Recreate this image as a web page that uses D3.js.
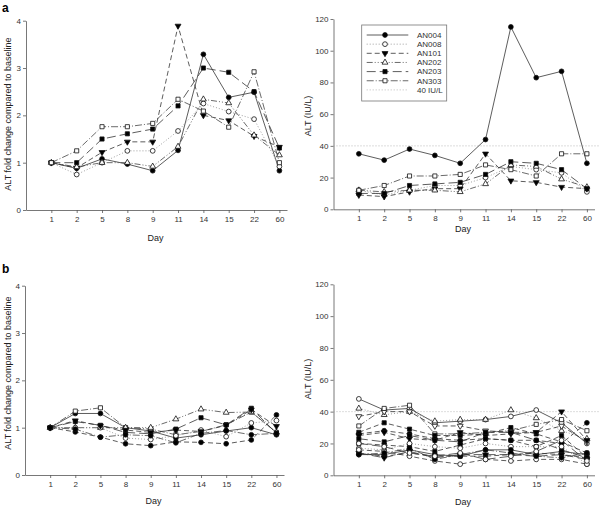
<!DOCTYPE html>
<html><head><meta charset="utf-8">
<script src="https://cdn.jsdelivr.net/npm/d3@7"></script>
<style>
body{margin:0;background:#fff;}
svg{display:block;font-family:"Liberation Sans",Arial,sans-serif;}
</style></head>
<body><svg id="c" width="600" height="507"></svg>
<script>
// ---------- DATA ----------
const days = ["1","2","5","8","9","11","14","15","22","60"];
const foldTicks = [0,1,2,3,4];
const altTicks = [0,20,40,60,80,100,120];
const limitValue = [40];

// Panel a: fold change vs baseline
const an004Fold = [1,0.88,1.08,0.97,0.83,1.26,3.29,2.38,2.49,0.83];
const an008Fold = [1,0.75,1.0,1.25,1.25,1.67,2.25,2.08,1.92,0.92];
const an101Fold = [1,0.89,1.22,1.44,1.44,3.89,2.0,1.89,1.56,1.33];
const an202Fold = [1,0.91,1.0,1.0,0.92,1.34,2.34,2.26,1.58,1.16];
const an203Fold = [1,1.0,1.5,1.61,1.71,2.2,3.0,2.91,2.5,1.31];
const an303Fold = [1,1.25,1.76,1.76,1.83,2.34,2.09,1.75,2.92,1.0];
// Panel a: ALT (IU/L)
const an004Alt = [35,31,38,34,29,44,115,83,87,29];
const an008Alt = [12,9,12,15,15,20,27,25,23,11];
const an101Alt = [9,8,11,13,13,35,18,17,14,13];
const an202Alt = [12,11,12,12,11,16,28,27,19,14];
const an203Alt = [10,10,15,16,17,22,30,29,25,13];
const an303Alt = [12,15,21,21,22,28,25,21,35,35];
const legendNames = ["AN004","AN008","AN101","AN202","AN203","AN303","40 IU/L"];

// Panel b: fold change
const bFold1 = [1,1.30,1.30,1.0,0.93,0.78,0.85,0.93,1.0,0.85];
const bFold2 = [1,1.35,1.42,1.0,0.97,0.85,0.92,1.06,1.33,0.9];
const bFold3 = [1,1.0,1.0,1.0,1.0,1.18,1.39,1.32,1.33,0.9];
const bFold4 = [1,1.13,1.05,0.9,0.87,0.97,1.21,1.06,1.41,0.88];
const bFold5 = [1,0.91,0.8,0.66,0.62,0.7,0.69,0.66,0.74,1.27];
const bFold6 = [1,1.0,1.0,0.78,0.75,0.83,0.95,0.81,1.1,1.15];
const bFold7 = [1,1.15,1.04,0.95,0.9,0.95,0.92,1.05,1.38,1.03];
const bFold8 = [1,0.97,0.8,0.85,0.83,0.68,0.88,0.94,0.85,0.88];
// Panel b: ALT (IU/L)
const bAlt1 = [48,41,42,33,34,35,37,41,33,20];
const bAlt2 = [42,38,40,34,35,35,41,36,28,23];
const bAlt3 = [37,40,40,31,31,28,27,27,31,21];
const bAlt4 = [31,42,44,26,26,27,28,32,35,28];
const bAlt5 = [27,33,29,25,25,26,30,26,21,14];
const bAlt6 = [26,28,26,23,22,23,22,22,20,33];
const bAlt7 = [25,27,23,22,27,25,26,27,40,22];
const bAlt8 = [23,21,25,22,21,27,27,22,16,11];
const bAlt9 = [20,19,18,15,19,23,22,18,25,11];
const bAlt10 = [17,16,20,18,17,20,18,18,18,7];
const bAlt11 = [13,13,16,13,12,16,16,13,15,13];
const bAlt12 = [14,12,14,12,12,12,13,14,13,11];
const bAlt13 = [14,11,15,11,13,13,13,12,13,10];
const bAlt14 = [16,15,12,9,7,10,9,10,10,7];
const bAlt15 = [13,14,17,10,13,16,14,12,11,14];
const bAlt16 = [20,18,14,12,14,10,12,15,22,9];

// ---------- STYLES ----------
const STY = {
  solid:   {dash:null, col:"#333"},
  dotted:  {dash:"1,2", col:"#888"},
  dashed:  {dash:"5,3", col:"#333"},
  dashdd:  {dash:"6,2,1,2,1,2", col:"#444"},
  longdash:{dash:"9,4", col:"#333"},
  dashdot: {dash:"7,2,1,2", col:"#444"}
};
const aStyles = [
  {m:"circle", fill:true, s:"solid"},
  {m:"circle", fill:false, s:"dotted"},
  {m:"tridown", fill:true, s:"dashed"},
  {m:"triup", fill:false, s:"dashdd"},
  {m:"square", fill:true, s:"longdash"},
  {m:"square", fill:false, s:"dashdot"}
];
const bLeftStyles = [
  {m:"circle", fill:true, s:"solid"},
  {m:"square", fill:false, s:"dashdot"},
  {m:"triup", fill:false, s:"dashdd"},
  {m:"square", fill:true, s:"longdash"},
  {m:"circle", fill:true, s:"dashed"},
  {m:"circle", fill:false, s:"dotted"},
  {m:"tridown", fill:true, s:"dashed"},
  {m:"circle", fill:true, s:"dashdot"}
];
const bRightStyles = [
  {m:"circle", fill:false, s:"solid"},
  {m:"triup", fill:false, s:"dotted"},
  {m:"tridown", fill:false, s:"dashed"},
  {m:"square", fill:false, s:"dashdot"},
  {m:"square", fill:true, s:"dashed"},
  {m:"circle", fill:true, s:"dashed"},
  {m:"tridown", fill:true, s:"dashed"},
  {m:"square", fill:true, s:"longdash"},
  {m:"square", fill:true, s:"dashed"},
  {m:"circle", fill:false, s:"dotted"},
  {m:"circle", fill:true, s:"solid"},
  {m:"square", fill:true, s:"dashed"},
  {m:"tridown", fill:true, s:"longdash"},
  {m:"circle", fill:false, s:"dashed"},
  {m:"circle", fill:true, s:"dashdot"},
  {m:"circle", fill:false, s:"longdash"}
];

const svg = d3.select("#c");
const FONT = "Liberation Sans, Arial, sans-serif";

function marker(g, kind, fill, x, y){
  let type = d3.symbolCircle, size = 18, rot = 0;
  if(kind==="square"){ type = d3.symbolSquare; size = 17; }
  if(kind==="triup"){ type = d3.symbolTriangle; size = 15; }
  if(kind==="tridown"){ type = d3.symbolTriangle; size = 15; rot = 180; }
  g.append("path")
    .attr("d", d3.symbol().type(type).size(size)())
    .attr("transform", `translate(${x},${y}) rotate(${rot})`)
    .attr("fill", fill ? "#000" : "#fff")
    .attr("stroke", "#111").attr("stroke-width", 0.8);
}

function panel(cfg){
  const g = svg.append("g");
  const x = d3.scaleLinear().domain([-1, 9.3]).range([cfg.x0, cfg.x0 + cfg.w]);
  const y = d3.scaleLinear().domain([0, cfg.ymax]).range([cfg.y0, cfg.ytop]);
  const ax = g.append("g").attr("transform", `translate(0,${cfg.y0})`)
    .call(d3.axisBottom(x).tickValues(d3.range(days.length)).tickFormat(i => days[i]).tickSize(3).tickSizeOuter(0).tickPadding(3));
  const ay = g.append("g").attr("transform", `translate(${cfg.x0},0)`)
    .call(d3.axisLeft(y).tickValues(cfg.ticks).tickFormat(d3.format("d")).tickSize(3).tickSizeOuter(0).tickPadding(2));
  [ax, ay].forEach(a => {
    a.selectAll("path,line").attr("stroke", "#555").attr("stroke-width", 0.8);
    a.selectAll("text").attr("fill", "#333").attr("font-size", 8).attr("font-family", FONT);
  });
  if(cfg.limit){
    g.append("line").attr("x1", cfg.x0).attr("x2", 600)
      .attr("y1", y(limitValue[0])).attr("y2", y(limitValue[0]))
      .attr("stroke", "#aaa").attr("stroke-width", 0.8).attr("stroke-dasharray", "1,2");
  }
  const line = d3.line().x((d,i) => x(i)).y(d => y(d));
  cfg.series.forEach((s, k) => {
    const st = cfg.styles[k], ls = STY[st.s];
    g.append("path").attr("d", line(s)).attr("fill", "none")
      .attr("stroke", ls.col).attr("stroke-width", 0.8)
      .attr("stroke-dasharray", ls.dash);
  });
  cfg.series.forEach((s, k) => {
    const st = cfg.styles[k];
    s.forEach((v, i) => marker(g, st.m, st.fill, x(i), y(v)));
  });
  g.append("text").attr("x", (cfg.x0 + cfg.x0 + cfg.w) / 2 + cfg.dayDx).attr("y", cfg.dayY)
    .attr("text-anchor", "middle").attr("font-size", 9).attr("fill", "#222")
    .attr("font-family", FONT).text("Day");
  g.append("text").attr("transform", `translate(${cfg.ylx},${cfg.yly}) rotate(-90)`)
    .attr("text-anchor", "middle").attr("font-size", 9).attr("fill", "#222")
    .attr("font-family", FONT).text(cfg.ytitle);
  return {x, y};
}

panel({x0:26, w:261, y0:210, ytop:20.7, ymax:4, ticks:foldTicks,
  series:[an004Fold,an008Fold,an101Fold,an202Fold,an203Fold,an303Fold], styles:aStyles,
  dayY:240.5, dayDx:-1, ylx:11, yly:114, ytitle:"ALT fold change compared to baseline"});
panel({x0:333.5, w:261, y0:209.3, ytop:19, ymax:120, ticks:altTicks, limit:true,
  series:[an004Alt,an008Alt,an101Alt,an202Alt,an203Alt,an303Alt], styles:aStyles,
  dayY:231.5, dayDx:-1, ylx:310.5, yly:116, ytitle:"ALT (IU/L)"});
panel({x0:25, w:259, y0:475, ytop:285.7, ymax:4, ticks:foldTicks,
  series:[bFold1,bFold2,bFold3,bFold4,bFold5,bFold6,bFold7,bFold8], styles:bLeftStyles,
  dayY:504, dayDx:-1, ylx:11, yly:373, ytitle:"ALT fold change compared to baseline"});
panel({x0:333.5, w:261, y0:475.3, ytop:284.3, ymax:120, ticks:altTicks, limit:true,
  series:[bAlt1,bAlt2,bAlt3,bAlt4,bAlt5,bAlt6,bAlt7,bAlt8,bAlt9,bAlt10,bAlt11,bAlt12,bAlt13,bAlt14,bAlt15,bAlt16], styles:bRightStyles,
  dayY:505, dayDx:-1, ylx:310.5, yly:379, ytitle:"ALT (IU/L)"});

// legend
const lg = svg.append("g");
lg.append("rect").attr("x", 361.7).attr("y", 25).attr("width", 85).attr("height", 76)
  .attr("fill", "#fff").attr("stroke", "#777").attr("stroke-width", 0.8);
legendNames.forEach((name, i) => {
  const yy = 35 + i * 9.15;
  const ls = i < 6 ? STY[aStyles[i].s] : {dash:"1,2", col:"#aaa"};
  lg.append("line").attr("x1", 366.7).attr("x2", 408.3).attr("y1", yy).attr("y2", yy)
    .attr("stroke", ls.col).attr("stroke-width", 0.8).attr("stroke-dasharray", ls.dash);
  if(i < 6) marker(lg, aStyles[i].m, aStyles[i].fill, 385, yy);
  lg.append("text").attr("x", 417).attr("y", yy).attr("dy", "0.35em")
    .attr("font-size", 8).attr("fill", "#333").attr("font-family", FONT).text(name);
});

// panel letters
svg.append("text").attr("x", 2).attr("y", 12).attr("font-size", 12).attr("font-weight", "bold")
  .attr("font-family", FONT).attr("fill", "#000").text("a");
svg.append("text").attr("x", 2).attr("y", 273).attr("font-size", 12).attr("font-weight", "bold")
  .attr("font-family", FONT).attr("fill", "#000").text("b");
</script></body></html>
